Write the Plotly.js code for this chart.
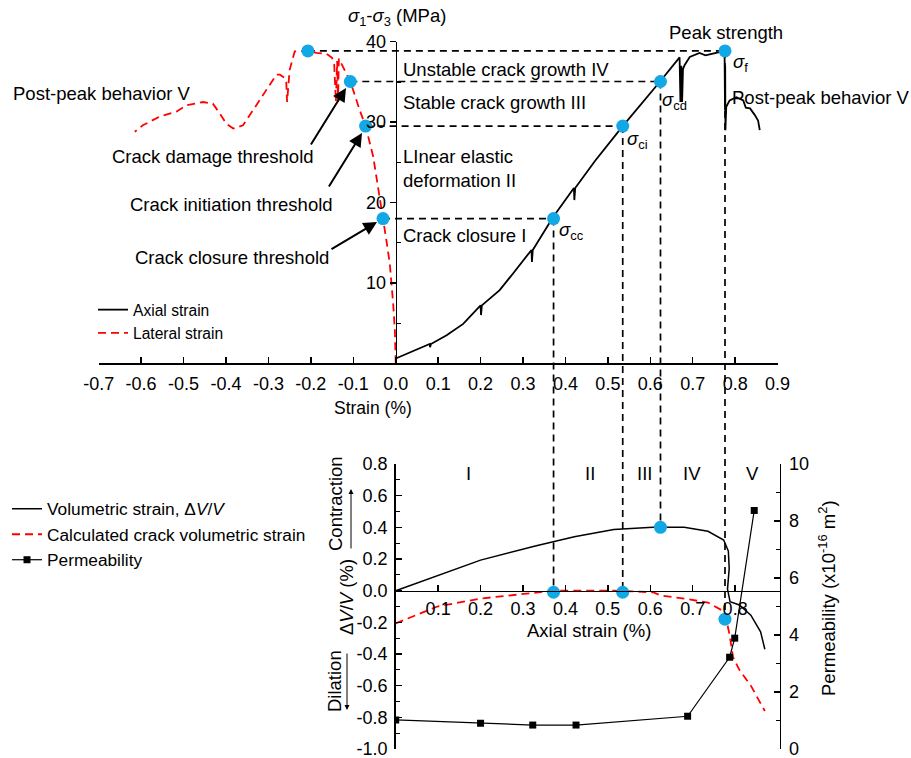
<!DOCTYPE html>
<html>
<head>
<meta charset="utf-8">
<script src="https://cdn.plot.ly/plotly-3.0.1.min.js"></script>
<style>html,body{margin:0;padding:0;background:#fff;}#chart{width:911px;height:758px;}</style>
</head>
<body>
<div id="chart"></div>
<script>
// ---------- DATA ----------
const axialStrain = [0, 0.04, 0.08, 0.081, 0.083, 0.12, 0.159, 0.2, 0.201, 0.203, 0.245, 0.277, 0.32, 0.321, 0.323, 0.371, 0.42, 0.421, 0.423, 0.47, 0.535, 0.623, 0.669, 0.671, 0.673, 0.675, 0.677, 0.681, 0.693, 0.716, 0.73, 0.745, 0.775, 0.776, 0.7765, 0.777, 0.779, 0.787, 0.803, 0.819, 0.825, 0.835, 0.846, 0.854, 0.858];
const axialStress = [0.6, 1.5, 2.4, 2.0, 2.4, 3.5, 4.9, 7.2, 6.0, 7.2, 9.1, 11.2, 14.1, 12.6, 14.1, 18.2, 21.8, 20.3, 21.8, 25.2, 29.5, 35.05, 38.05, 32.5, 37.0, 32.5, 36.6, 37.1, 38.1, 38.6, 38.3, 38.5, 38.85, 31.5, 37.0, 29.0, 31.9, 32.7, 33.1, 32.7, 31.8, 31.7, 30.9, 30.2, 29.0];

const lateralStrain = [0, -0.002, -0.006, -0.010, -0.014, -0.022, -0.030, -0.038, -0.053, -0.071, -0.085, -0.107, -0.124, -0.134, -0.136, -0.138, -0.141, -0.145, -0.150, -0.163, -0.187, -0.207, -0.238, -0.242, -0.250, -0.256, -0.258, -0.262, -0.273, -0.281, -0.305, -0.336, -0.360, -0.383, -0.399, -0.415, -0.431, -0.454, -0.493, -0.517, -0.556, -0.596, -0.615];
const lateralStress = [0, 4.1, 7.4, 9.9, 12.4, 15.3, 18.0, 20.7, 25.7, 29.5, 31.5, 35.05, 36.9, 37.9, 32.5, 37.6, 32.5, 37.2, 38.0, 38.5, 38.6, 38.85, 38.8, 38.1, 36.5, 32.5, 35.0, 35.5, 35.9, 35.9, 34.0, 31.5, 29.6, 29.2, 29.8, 31.1, 32.3, 32.5, 32.1, 31.3, 30.7, 29.6, 28.8];

const thresholdAxial   = [0.372, 0.535, 0.624, 0.776];
const thresholdLateral = [-0.030, -0.071, -0.107, -0.207];
const thresholdStress  = [18.0, 29.5, 35.05, 38.85];
const thresholdVol     = [-0.01, -0.01, 0.40, -0.18];

const volAxial  = [0, 0.1, 0.2, 0.329, 0.421, 0.514, 0.606, 0.68, 0.736, 0.773, 0.777, 0.784, 0.786, 0.782, 0.788, 0.81, 0.837, 0.86, 0.87];
const volStrain = [0, 0.097, 0.193, 0.282, 0.34, 0.387, 0.40, 0.40, 0.375, 0.32, 0.29, 0.25, 0.14, 0.01, -0.07, -0.09, -0.155, -0.26, -0.37];

const crackAxial = [0, 0.098, 0.2, 0.329, 0.374, 0.514, 0.606, 0.624, 0.68, 0.736, 0.773, 0.779, 0.787, 0.795, 0.81, 0.837, 0.87];
const crackVol   = [-0.207, -0.10, -0.05, -0.01, 0, 0, -0.01, -0.03, -0.05, -0.075, -0.13, -0.18, -0.28, -0.42, -0.50, -0.60, -0.76];

const permAxial = [0.0, 0.2, 0.323, 0.425, 0.688, 0.787, 0.799, 0.845];
const permValue = [1.02, 0.90, 0.84, 0.84, 1.15, 3.22, 3.89, 8.37];

const strainTicks = [-0.7, -0.6, -0.5, -0.4, -0.3, -0.2, -0.1, 0.0, 0.1, 0.2, 0.3, 0.4, 0.5, 0.6, 0.7, 0.8, 0.9];
const strainTickText = ['-0.7', '-0.6', '-0.5', '-0.4', '-0.3', '-0.2', '-0.1', '0.0', '0.1', '0.2', '0.3', '0.4', '0.5', '0.6', '0.7', '0.8', '0.9'];
const stressTicks = [10, 20, 30, 40];
const stressMinor = [5, 15, 25, 35];
const axialTicks = [0.1, 0.2, 0.3, 0.4, 0.5, 0.6, 0.7, 0.8];
const axialTickText = ['0.1', '0.2', '0.3', '0.4', '0.5', '0.6', '0.7', '0.8'];
const volTicks = [-1.0, -0.8, -0.6, -0.4, -0.2, 0.0, 0.2, 0.4, 0.6, 0.8];
const volTickText = ['-1.0', '-0.8', '-0.6', '-0.4', '-0.2', '0.0', '0.2', '0.4', '0.6', '0.8'];
const volMinor = [-0.9, -0.7, -0.5, -0.3, -0.1, 0.1, 0.3, 0.5, 0.7];
const permTicks = [0, 2, 4, 6, 8, 10];
const permMinor = [1, 3, 5, 7, 9];
const stageLabels = ['I', 'II', 'III', 'IV', 'V'];

// ---------- LAYOUT HELPERS ----------
const W = 911, H = 758;
const px = v => v / W;
const py = v => 1 - v / H;
const FONT = 'Arial, "Liberation Sans", sans-serif';
const BLUE = '#12a8e6';

const xDom  = [px(98.7), px(777.6)];
const yDom  = [py(363.3), py(41.7)];
const x2Dom = [px(395.7), px(395.7 + 0.905 * 424.3)];
const y2Dom = [py(749), py(464)];
const yTop = v => yDom[0] + v / 40 * (yDom[1] - yDom[0]);
const yBot = v => y2Dom[0] + (v + 1) / 1.8 * (y2Dom[1] - y2Dom[0]);

const traces = [
  {x: axialStrain, y: axialStress, xaxis: 'x', yaxis: 'y', mode: 'lines', name: 'Axial strain',
   line: {color: '#000', width: 1.8}, legend: 'legend'},
  {x: lateralStrain, y: lateralStress, xaxis: 'x', yaxis: 'y', mode: 'lines', name: 'Lateral strain',
   line: {color: '#ff0000', width: 1.8, dash: '8px,5px'}, legend: 'legend'},
  {x: thresholdAxial.concat(thresholdLateral), y: thresholdStress.concat(thresholdStress), xaxis: 'x', yaxis: 'y',
   mode: 'markers', marker: {color: BLUE, size: 13}, showlegend: false},
  {x: volAxial, y: volStrain, xaxis: 'x2', yaxis: 'y2', mode: 'lines', name: 'Volumetric strain, \u0394<i>V</i>/<i>V</i>',
   line: {color: '#000', width: 1.5}, legend: 'legend2'},
  {x: crackAxial, y: crackVol, xaxis: 'x2', yaxis: 'y2', mode: 'lines', name: 'Calculated crack volumetric strain',
   line: {color: '#ff0000', width: 1.8, dash: '8px,5px'}, legend: 'legend2'},
  {x: thresholdAxial, y: thresholdVol, xaxis: 'x2', yaxis: 'y2', mode: 'markers',
   marker: {color: BLUE, size: 13}, showlegend: false},
  {x: permAxial, y: permValue, xaxis: 'x2', yaxis: 'y3', mode: 'lines+markers', name: 'Permeability',
   line: {color: '#000', width: 1.2}, marker: {symbol: 'square', size: 7, color: '#000'}, legend: 'legend2'}
];

const shapes = [];
for (let i = 0; i < thresholdAxial.length; i++) {
  shapes.push({type: 'line', xref: 'x', yref: 'y', x0: thresholdLateral[i], x1: thresholdAxial[i],
    y0: thresholdStress[i], y1: thresholdStress[i], line: {color: '#000', width: 1.7, dash: '7px,5px'}, layer: 'below'});
  shapes.push({type: 'line', xref: 'x', yref: 'paper', x0: thresholdAxial[i], x1: thresholdAxial[i],
    y0: yTop(thresholdStress[i]), y1: yBot(thresholdVol[i]), line: {color: '#000', width: 1.7, dash: '7px,5px'}, layer: 'below'});
}

function txt(text, x, y, opts) {
  return Object.assign({text: text, xref: 'paper', yref: 'paper', x: px(x), y: py(y), showarrow: false,
    xanchor: 'left', yanchor: 'middle', font: {family: FONT, size: 18.5, color: '#000'}}, opts || {});
}
function arrow(tipX, tipY, tailX, tailY, w, s) {
  return {text: '', xref: 'paper', yref: 'paper', x: px(tipX), y: py(tipY), ax: tailX - tipX, ay: tailY - tipY,
    showarrow: true, arrowhead: 2, arrowsize: s || 1.35, arrowwidth: w || 2, arrowcolor: '#000'};
}

const stageX = [468.6, 590, 644, 692, 752];
const annotations = [
  txt('<i>\u03c3</i><sub>1</sub>-<i>\u03c3</i><sub>3</sub> (MPa)', 397, 17, {xanchor: 'center'}),
  txt('Peak strength', 667, 32),
  txt('<i>\u03c3</i><sub>f</sub>', 731, 63),
  txt('<i>\u03c3</i><sub>cd</sub>', 660, 101),
  txt('<i>\u03c3</i><sub>ci</sub>', 625, 140),
  txt('<i>\u03c3</i><sub>cc</sub>', 557, 231),
  txt('Unstable crack growth IV', 401, 69),
  txt('Stable crack growth III', 401, 103),
  txt('LInear elastic', 401, 157),
  txt('deformation II', 401, 180),
  txt('Crack closure I', 401, 236),
  txt('Post-peak behavior V', 730, 98),
  txt('Post-peak behavior V', 11, 93),
  txt('Crack damage threshold', 110, 156),
  txt('Crack initiation threshold', 128, 204),
  txt('Crack closure threshold', 133, 257),
  txt('Strain (%)', 373, 408, {xanchor: 'center', font: {family: FONT, size: 17.5, color: '#000'}}),
  txt('Axial strain (%)', 589, 630, {xanchor: 'center'}),
  txt('\u0394<i>V</i>/<i>V</i> (%)', 346, 597, {xanchor: 'center', textangle: -90}),
  txt('Contraction', 335, 504, {xanchor: 'center', textangle: -90}),
  txt('Dilation', 334, 681, {xanchor: 'center', textangle: -90}),
  txt('Permeability (x10<sup>-16</sup> m<sup>2</sup>)', 827, 598, {xanchor: 'center', textangle: -90}),
  arrow(346, 88, 310, 146),
  arrow(362, 133, 328, 188),
  arrow(377, 222, 330, 250),
  arrow(351, 489, 351, 550, 1, 1),
  arrow(347, 710, 347, 652, 1, 1)
];
stageLabels.forEach((s, i) => annotations.push(txt(s, stageX[i], 473, {xanchor: 'center'})));

const tickFont = {family: FONT, size: 18, color: '#000'};
const layout = {
  width: W, height: H,
  margin: {l: 0, r: 0, t: 0, b: 0},
  paper_bgcolor: '#fff', plot_bgcolor: 'rgba(0,0,0,0)',
  font: {family: FONT, color: '#000'},
  xaxis: {domain: xDom, range: [-0.7, 0.9], anchor: 'y', showline: true, linecolor: '#000', linewidth: 1.6,
    showgrid: false, zeroline: false, tickmode: 'array', tickvals: strainTicks, ticktext: strainTickText,
    ticks: 'inside', ticklen: 6, tickwidth: 1.4, tickcolor: '#000', tickfont: tickFont, ticklabelstandoff: 3,
    ticklabeloverflow: 'allow'},
  yaxis: {domain: yDom, range: [0, 40], anchor: 'free', position: px(395.7), showline: true, linecolor: '#000', linewidth: 1.6,
    showgrid: false, zeroline: false, tickmode: 'array', tickvals: stressTicks, ticks: 'outside', ticklen: 6,
    tickwidth: 1.4, tickcolor: '#000', tickfont: tickFont, ticklabeloverflow: 'allow',
    minor: {tickvals: stressMinor, ticks: 'inside', ticklen: 4, tickwidth: 1.2, tickcolor: '#000'}},
  xaxis2: {domain: x2Dom, range: [0, 0.905], anchor: 'free', position: yBot(0), showline: true, linecolor: '#000', linewidth: 1.6,
    showgrid: false, zeroline: false, tickmode: 'array', tickvals: axialTicks, ticktext: axialTickText,
    ticks: 'inside', ticklen: 6, tickwidth: 1.4, tickcolor: '#000', tickfont: tickFont, ticklabelstandoff: 1,
    ticklabeloverflow: 'allow'},
  yaxis2: {domain: y2Dom, range: [-1, 0.8], anchor: 'x2', showline: true, linecolor: '#000', linewidth: 1.6,
    showgrid: false, zeroline: false, tickmode: 'array', tickvals: volTicks, ticktext: volTickText,
    ticks: 'inside', ticklen: 6, tickwidth: 1.4, tickcolor: '#000', tickfont: tickFont, ticklabelstandoff: 3,
    ticklabeloverflow: 'allow',
    minor: {tickvals: volMinor, ticks: 'inside', ticklen: 4, tickwidth: 1.2, tickcolor: '#000'}},
  yaxis3: {domain: y2Dom, range: [0, 10], overlaying: 'y2', side: 'right', anchor: 'x2', showline: true, linecolor: '#000', linewidth: 1.6,
    showgrid: false, zeroline: false, tickmode: 'array', tickvals: permTicks,
    ticks: 'inside', ticklen: 6, tickwidth: 1.4, tickcolor: '#000', tickfont: tickFont, ticklabelstandoff: 4,
    ticklabeloverflow: 'allow',
    minor: {tickvals: permMinor, ticks: 'inside', ticklen: 4, tickwidth: 1.2, tickcolor: '#000'}},
  legend: {x: px(93), y: py(293), xanchor: 'left', yanchor: 'top', bgcolor: 'rgba(0,0,0,0)',
    font: {family: FONT, size: 15.6, color: '#000'}, tracegroupgap: 0},
  legend2: {x: px(7), y: py(491), xanchor: 'left', yanchor: 'top', bgcolor: 'rgba(0,0,0,0)',
    font: {family: FONT, size: 17.3, color: '#000'}, tracegroupgap: 0},
  shapes: shapes,
  annotations: annotations
};

Plotly.newPlot('chart', traces, layout, {staticPlot: true, displayModeBar: false});
</script>
</body>
</html>
